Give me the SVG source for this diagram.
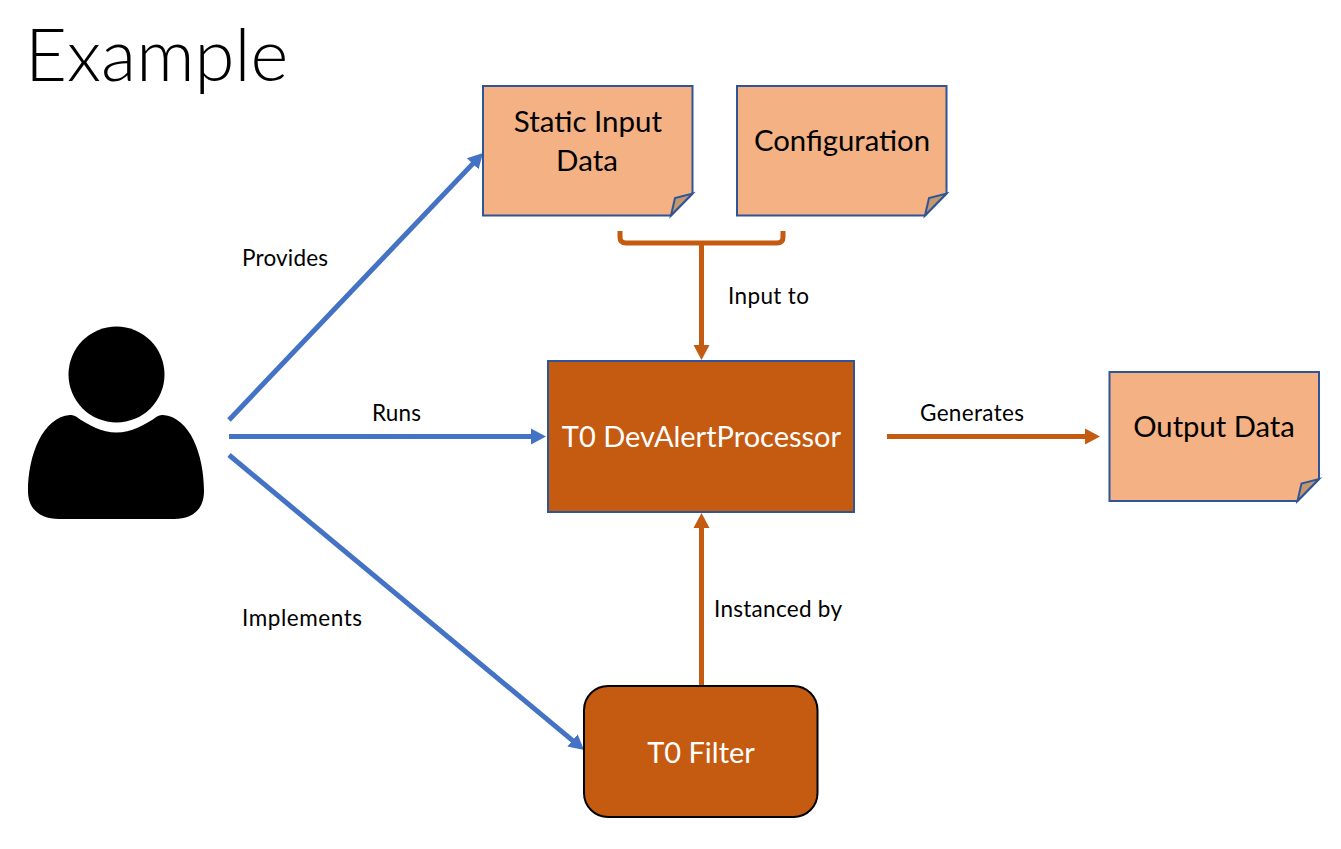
<svg xmlns="http://www.w3.org/2000/svg" width="1341" height="849" viewBox="0 0 1341 849">
<style>
text{font-family:Lato,"Open Sans","Liberation Sans",sans-serif;fill:#000}
.n{font-size:29px;text-anchor:middle}
text.w{fill:#fff}
.l{font-size:22.500px}
.note{fill:#f4b183;stroke:#2f5597;stroke-width:2}
.fold{fill:#c4986f;stroke:#2f5597;stroke-width:2}
.blue{fill:none;stroke:#4472c4;stroke-width:5}
.or{fill:none;stroke:#c55a11;stroke-width:5}
</style>
<defs>
<marker id="ab" markerUnits="userSpaceOnUse" markerWidth="18" markerHeight="18" refX="10" refY="9" orient="auto"><path d="M0 1L15 9L0 17z" fill="#4472c4"/></marker>
<marker id="ao" markerUnits="userSpaceOnUse" markerWidth="18" markerHeight="18" refX="10" refY="9" orient="auto"><path d="M0 1L15 9L0 17z" fill="#c55a11"/></marker>
</defs>
<text id="title" x="25" y="81" font-size="72.500" style="font-weight:300">Example</text>
<g id="connectors">
<path class="blue" d="M229 420L479.600 156.600" marker-end="url(#ab)"/>
<path class="blue" d="M229 436.500H541" marker-end="url(#ab)"/>
<path class="blue" d="M229 455L580.200 746.800" marker-end="url(#ab)"/>
<path class="or" d="M620 231V237Q620 243 626 243H777Q783 243 783 237V231"/>
<path class="or" d="M701.500 243V355" marker-end="url(#ao)"/>
<path class="or" d="M887 436.500H1095" marker-end="url(#ao)"/>
<path class="or" d="M701.500 687V518" marker-end="url(#ao)"/>
</g>
<g id="user">
<circle cx="116.500" cy="374.500" r="48"/>
<path d="M70 415Q73 414.500 76 416.500C88 425 102 432.500 116.500 432.500C131 432.500 145 425 157 416.500Q160 414.500 163 415C190 417 204 455 204 491C204 510 192 519 174 519H59C41 519 28 510 28 491C28 455 43 417 70 415Z"/>
</g>
<g id="static-input">
<path class="note" d="M483 86H692.500V193.500L671 215.500H483Z"/>
<path class="fold" d="M671 215.500L675 198L692.500 193.500Z"/>
<text class="n" x="588" y="132" style="font-size:29.500px">Static Input</text>
<text class="n" x="587" y="171" style="font-size:29.500px">Data</text>
</g>
<g id="configuration">
<path class="note" d="M737 86H946.500V193.500L925 215.500H737Z"/>
<path class="fold" d="M925 215.500L929 198L946.500 193.500Z"/>
<text class="n" x="842" y="151" style="font-size:29.300px">Configuration</text>
</g>
<g id="processor">
<rect x="548" y="361" width="306" height="151" fill="#c55a11" stroke="#2f5597" stroke-width="2"/>
<text class="n w" x="701.500" y="447">T0 DevAlertProcessor</text>
</g>
<g id="output">
<path class="note" d="M1109.500 372H1319V479L1297.500 501H1109.500Z"/>
<path class="fold" d="M1297.500 501L1301.500 483.500L1319 479Z"/>
<text class="n" x="1214" y="437" style="font-size:29.200px">Output Data</text>
</g>
<g id="filter">
<rect x="584" y="686" width="233.500" height="131" rx="24" fill="#c55a11" stroke="#000" stroke-width="2"/>
<text class="n w" x="701" y="763">T0 Filter</text>
</g>
<g id="labels">
<text class="l" x="242" y="266" textLength="86">Provides</text>
<text class="l" x="372" y="421" textLength="49">Runs</text>
<text class="l" x="242" y="625.500" textLength="120">Implements</text>
<text class="l" x="728" y="303.500" textLength="81">Input to</text>
<text class="l" x="714" y="616.500" textLength="128">Instanced by</text>
<text class="l" x="920" y="421" textLength="104">Generates</text>
</g>
</svg>
